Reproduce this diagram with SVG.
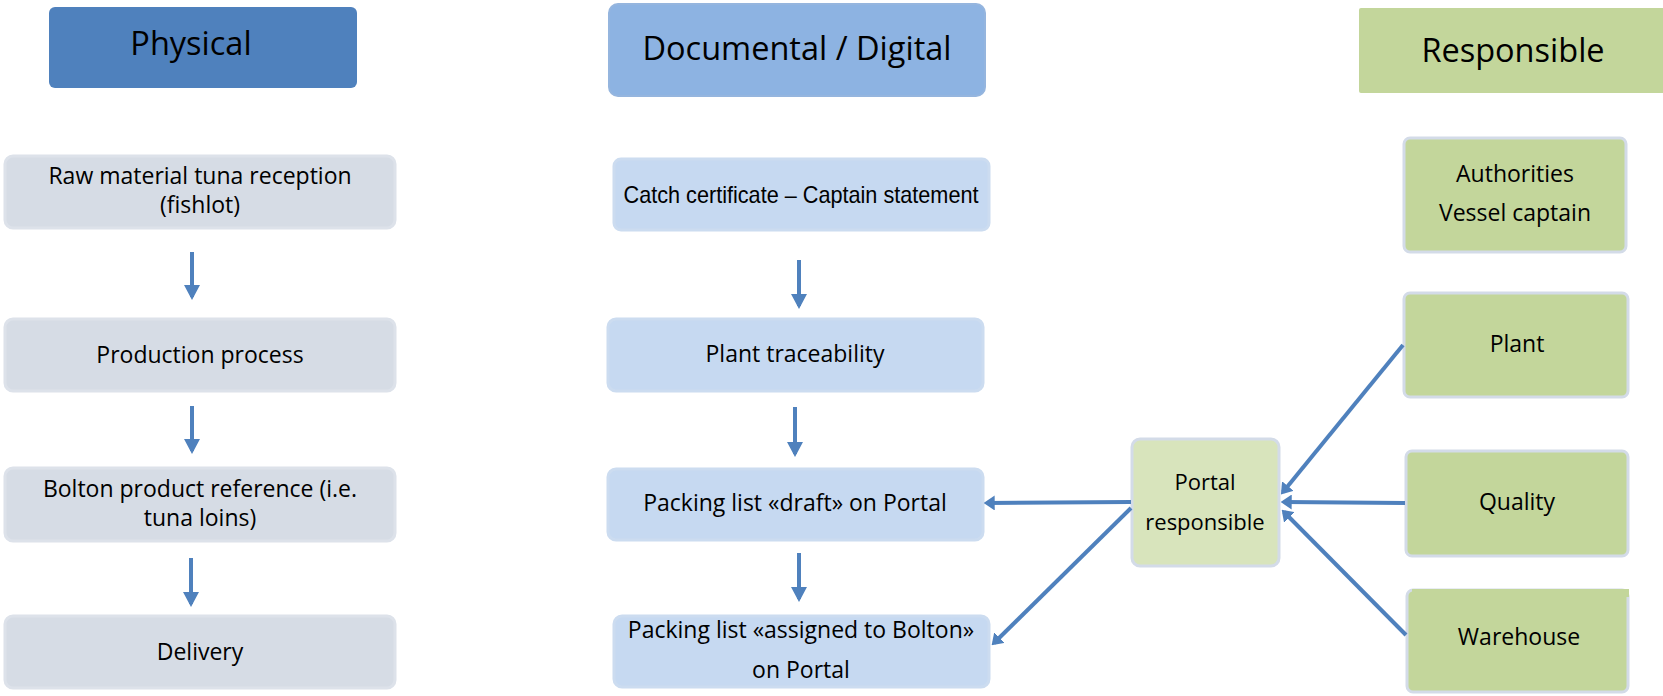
<svg xmlns="http://www.w3.org/2000/svg" width="1663" height="696" viewBox="0 0 1663 696">
<style>
text{font-family:"Open Sans","Noto Sans","Liberation Sans",sans-serif;fill:#000;text-anchor:middle}
.hd{font-size:32.5px}
.t{font-size:23px}
.ts{font-size:22px}
.ar{font-family:"Liberation Sans",Arial,sans-serif;font-size:24px}
.phys{fill:#d6dce5;stroke:#dde2ea;stroke-width:3}
.doc{fill:#c6d9f1;stroke:#ccdcf0;stroke-width:3}
.resp{fill:#c3d69b;stroke:#d3dbe8;stroke-width:3}
.portal{fill:#d8e4bc;stroke:#d3dbe8;stroke-width:3}
.con{stroke:#4f81bd;stroke-width:4;fill:none}
.dn{stroke:#4f81bd;stroke-width:4;fill:none}
</style>
<defs>
<marker id="ah" viewBox="0 0 10 10" refX="7" refY="5" markerWidth="11" markerHeight="15" markerUnits="userSpaceOnUse" orient="auto" preserveAspectRatio="none"><path d="M0,0 L10,5 L0,10 z" fill="#4f81bd"/></marker>
<marker id="dh" viewBox="0 0 15 16" refX="12" refY="8" markerWidth="15" markerHeight="16" markerUnits="userSpaceOnUse" orient="auto"><path d="M0,0 L15,8 L0,16 z" fill="#4f81bd"/></marker>
</defs>

<g id="hdr-physical"><rect x="49" y="7" width="308" height="81" rx="6" fill="#4f81bd"/><text class="hd" x="191" y="55">Physical</text></g>
<g id="hdr-doc"><rect x="609" y="4" width="376" height="92" rx="9" fill="#8db3e2" stroke="#95b5de" stroke-width="2"/><text class="hd" x="797" y="60">Documental / Digital</text></g>
<g id="hdr-resp"><rect x="1359" y="8" width="306" height="85" rx="2" fill="#c3d69b"/><text class="hd" x="1513" y="62">Responsible</text></g>

<g id="p1"><rect class="phys" x="5" y="156" width="390" height="72" rx="8"/><text class="t" x="200" y="184">Raw material tuna reception</text><text class="t" x="200" y="213">(fishlot)</text></g>
<g id="p2"><rect class="phys" x="5" y="319" width="390" height="72" rx="8"/><text class="t" x="200" y="363">Production process</text></g>
<g id="p3"><rect class="phys" x="5" y="468" width="390" height="73" rx="8"/><text class="t" x="200" y="497">Bolton product reference (i.e.</text><text class="t" x="200" y="526">tuna loins)</text></g>
<g id="p4"><rect class="phys" x="5" y="616" width="390" height="72" rx="8"/><text class="t" x="200" y="660">Delivery</text></g>

<g id="d1"><rect class="doc" x="614" y="159" width="375" height="71" rx="7"/><text class="ar" x="801" y="203" textLength="355" lengthAdjust="spacingAndGlyphs">Catch certificate – Captain statement</text></g>
<g id="d2"><rect class="doc" x="608" y="319" width="375" height="72" rx="8"/><text class="t" x="795" y="362">Plant traceability</text></g>
<g id="d3"><rect class="doc" x="608" y="469" width="375" height="71" rx="8"/><text class="t" x="795" y="511">Packing list «draft» on Portal</text></g>
<g id="d4"><rect class="doc" x="614" y="616" width="375" height="71" rx="8"/><text class="t" x="801" y="638">Packing list «assigned to Bolton»</text><text class="t" x="801" y="678">on Portal</text></g>

<g id="r1"><rect class="resp" x="1404" y="138" width="222" height="114" rx="6"/><text class="t" x="1515" y="182">Authorities</text><text class="t" x="1515" y="221">Vessel captain</text></g>
<g id="r2"><rect class="resp" x="1404" y="293" width="224" height="104" rx="6"/><text class="t" x="1517" y="352">Plant</text></g>
<g id="r3"><rect class="resp" x="1406" y="451" width="222" height="105" rx="6"/><text class="t" x="1517" y="510">Quality</text></g>
<g id="r4"><rect class="resp" x="1407" y="590" width="221" height="102" rx="6"/><rect x="1412" y="589" width="217" height="8" fill="#c3d69b"/><text class="t" x="1519" y="645">Warehouse</text></g>
<g id="portal"><rect class="portal" x="1132" y="439" width="147" height="127" rx="8"/><text class="ts" x="1205" y="490">Portal</text><text class="ts" x="1205" y="530">responsible</text></g>

<g id="connectors">
<line class="dn" x1="192" y1="252" x2="192" y2="297" marker-end="url(#dh)"/>
<line class="dn" x1="192" y1="406" x2="192" y2="451" marker-end="url(#dh)"/>
<line class="dn" x1="191" y1="558" x2="191" y2="604" marker-end="url(#dh)"/>
<line class="dn" x1="799" y1="260" x2="799" y2="306" marker-end="url(#dh)"/>
<line class="dn" x1="795" y1="407" x2="795" y2="454" marker-end="url(#dh)"/>
<line class="dn" x1="799" y1="553" x2="799" y2="599" marker-end="url(#dh)"/>
<line class="con" x1="1131" y1="502" x2="987" y2="503" marker-end="url(#ah)"/>
<line class="con" x1="1131" y1="508" x2="994" y2="643" marker-end="url(#ah)"/>
<line class="con" x1="1403" y1="345" x2="1283" y2="492" marker-end="url(#ah)"/>
<line class="con" x1="1405" y1="503" x2="1284" y2="502" marker-end="url(#ah)"/>
<line class="con" x1="1406" y1="635" x2="1284" y2="512" marker-end="url(#ah)"/>
</g>
</svg>
